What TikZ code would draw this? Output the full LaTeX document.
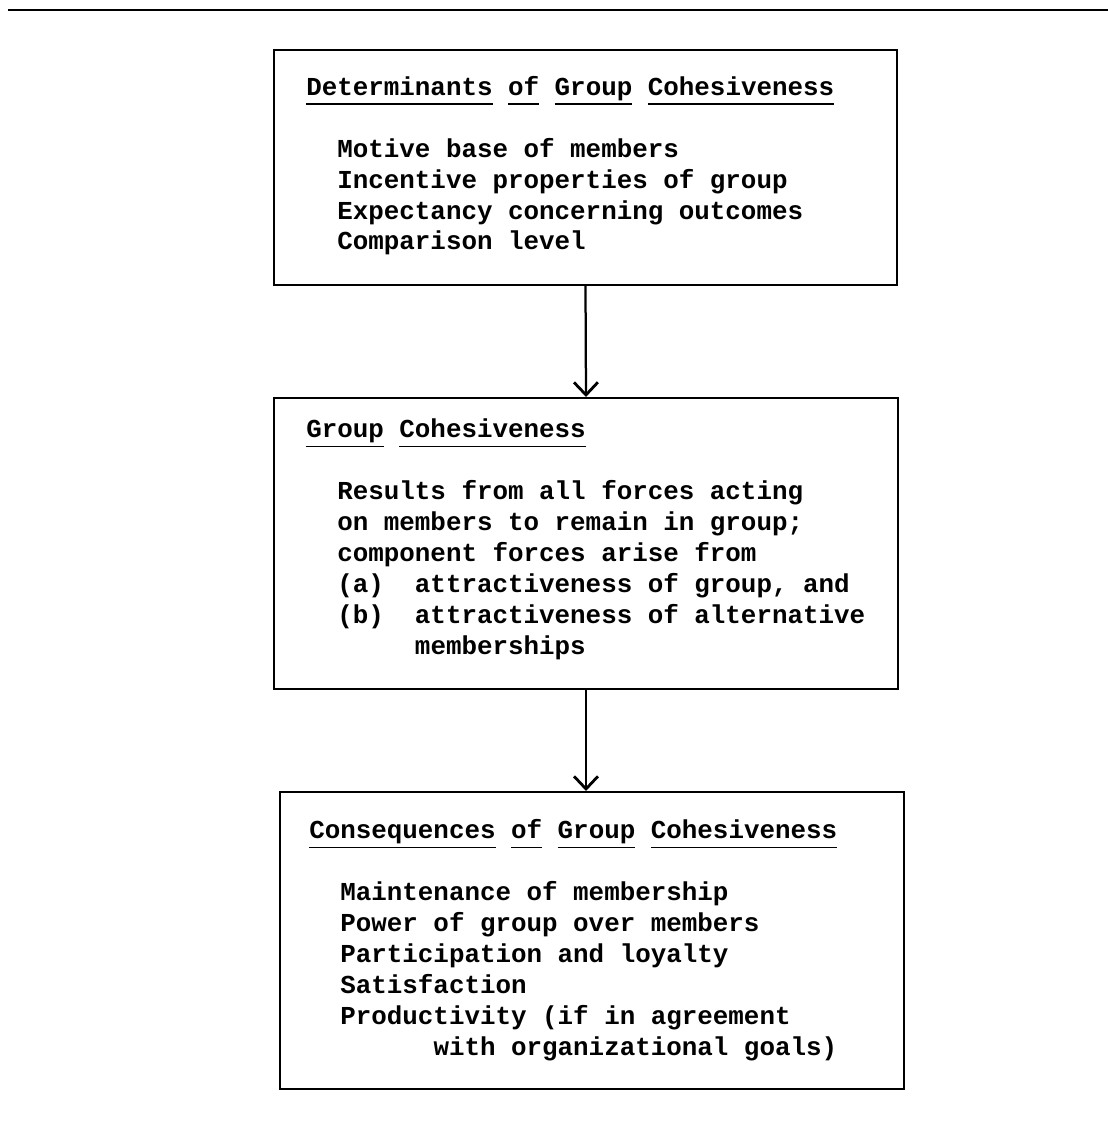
\documentclass[tikz,border=0pt]{standalone}
\usepackage{fontspec}
\setmonofont{Liberation Mono}
\usepackage{tikz}
\usetikzlibrary{positioning, arrows.meta}

% underline one word at a fixed depth
\newcommand{\ulword}[1]{\leavevmode\setbox0=\hbox{#1}\rlap{\rule[-7pt]{\wd0}{1.2pt}}\box0\relax}

\begin{document}
\begin{tikzpicture}[x=0.025cm, y=-0.025cm,
    >={Straight Barb[length=9pt, width=17pt, line width=2pt]},
    box/.style={draw, line width=1.3pt, inner sep=0pt, anchor=north west},
    boxtext/.style={anchor=base west, inner sep=0pt, align=left,
        font=\ttfamily\bfseries\fontsize{18.4pt}{22pt}\selectfont}]
    \useasboundingbox (0,0) rectangle (1108,1122);

    % 1. Rule across the top of the page
    \draw[line width=1.4pt] (8,10) -- (1108,10);

    % 2. The three boxes
    \node[box, minimum width=15.575cm, minimum height=5.875cm] (det) at (273,49) {};
    \node[box, minimum width=15.6cm, minimum height=7.275cm] (coh) at (273,397) {};
    \node[box, minimum width=15.6cm, minimum height=7.425cm] (cons) at (279,791) {};

    % 3. Texts in the boxes (placed at the baseline of the last line)
    \node[boxtext] (dettext) at (306,250) {\ulword{Determinants} \ulword{of} \ulword{Group} \ulword{Cohesiveness}\\[22pt]
        ~~Motive base of members\\
        ~~Incentive properties of group\\
        ~~Expectancy concerning outcomes\\
        ~~Comparison level};
    \node[boxtext] (cohtext) at (306,654) {\ulword{Group} \ulword{Cohesiveness}\\[22pt]
        ~~Results from all forces acting\\
        ~~on members to remain in group;\\
        ~~component forces arise from\\
        ~~(a)~~attractiveness of group, and\\
        ~~(b)~~attractiveness of alternative\\
        ~~~~~~~memberships};
    \node[boxtext] (constext) at (309,1055) {\ulword{Consequences} \ulword{of} \ulword{Group} \ulword{Cohesiveness}\\[22pt]
        ~~Maintenance of membership\\
        ~~Power of group over members\\
        ~~Participation and loyalty\\
        ~~Satisfaction\\
        ~~Productivity (if in agreement\\
        ~~~~~~~~with organizational goals)};

    % 4. Arrows between the boxes
    \draw[->, line width=1.6pt] (det.south) -- (coh.north);
    \draw[->, line width=1.6pt] (coh.south) -- (coh.south |- cons.north);

\end{tikzpicture}
\end{document}
